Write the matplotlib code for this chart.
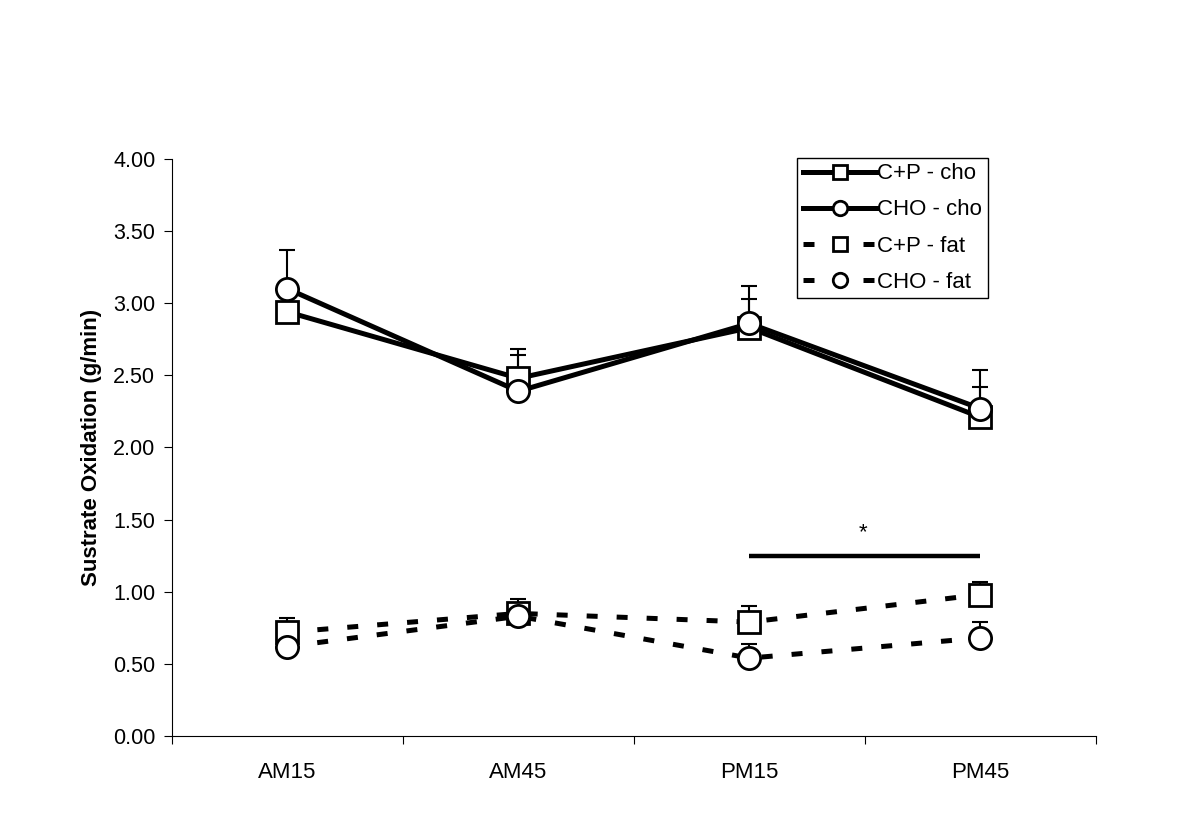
import matplotlib
matplotlib.use("Agg")
import matplotlib.pyplot as plt
import numpy as np

plt.rcParams['font.family'] = ['Liberation Sans', 'DejaVu Sans']

categories = ["AM15", "AM45", "PM15", "PM45"]
cp_cho = [2.94, 2.48, 2.83, 2.21]
cp_cho_se = [0.0, 0.20, 0.20, 0.21]
cho_cho = [3.10, 2.39, 2.86, 2.27]
cho_cho_se = [0.27, 0.25, 0.26, 0.27]
cp_fat = [0.72, 0.85, 0.79, 0.98]
cp_fat_se = [0.10, 0.10, 0.11, 0.09]
cho_fat = [0.62, 0.83, 0.54, 0.68]
cho_fat_se = [0.0, 0.08, 0.10, 0.11]
sig_x = [2, 3]
sig_y = 1.25
sig_label = "*"
yticks = [0.0, 0.5, 1.0, 1.5, 2.0, 2.5, 3.0, 3.5, 4.0]

fig = plt.figure(figsize=(12, 8.38), dpi=100)
ax = fig.add_axes([0.1433, 0.1217, 0.77, 0.6886])
x = np.arange(len(categories))

series = [
    (cp_cho, cp_cho_se, 's', '-', "C+P - cho"),
    (cho_cho, cho_cho_se, 'o', '-', "CHO - cho"),
    (cp_fat, cp_fat_se, 's', '--', "C+P - fat"),
    (cho_fat, cho_fat_se, 'o', '--', "CHO - fat"),
]
handles = []
for vals, se, mk, ls, lab in series:
    ax.errorbar(x, vals, yerr=[np.zeros(len(se)), se], fmt='none', ecolor='black',
                elinewidth=1.5, capsize=5.5, capthick=1.5, zorder=2)
    line, = ax.plot(x, vals, linestyle=ls, color='black', linewidth=3.6,
                    marker=mk, markersize=16, markerfacecolor='white',
                    markeredgecolor='black', markeredgewidth=2.0, label=lab, zorder=3)
    if ls == '--':
        line.set_dashes((2.2, 3.8))
        line.set_dash_capstyle('butt')
    handles.append(line)

# significance bar
ax.plot(sig_x, [sig_y, sig_y], color='black', linewidth=3.2, solid_capstyle='butt')
ax.text(np.mean(sig_x) - 0.01, sig_y + 0.09, sig_label, ha='center', va='bottom', fontsize=16)

ax.set_xlim(-0.5, 3.5)
ax.set_ylim(0, 4)
ax.set_yticks(yticks)
ax.set_yticklabels([f"{v:.2f}" for v in yticks], fontsize=15.5)
ax.set_xticks(x)
ax.set_xticklabels(categories, fontsize=16)
ax.set_xticks(np.arange(-0.5, 4.0, 1.0), minor=True)
ax.tick_params(axis='x', which='major', length=0, pad=19)
ax.tick_params(axis='x', which='minor', length=6, direction='out', width=0.8)
ax.tick_params(axis='y', length=6, direction='out', width=0.8, pad=6)
for s in ['top', 'right']:
    ax.spines[s].set_visible(False)
for s in ['left', 'bottom']:
    ax.spines[s].set_linewidth(0.8)
ax.set_ylabel("Sustrate Oxidation (g/min)", fontsize=16, fontweight='bold', labelpad=8)

leg = ax.legend(handles=handles, loc='upper right', bbox_to_anchor=(0.883, 1.002),
                fontsize=16, frameon=True, fancybox=False, edgecolor='black',
                handlelength=3.3, handletextpad=0.05, borderpad=0.25, labelspacing=0.68,
                borderaxespad=0.0, markerscale=0.65)
leg.get_frame().set_linewidth(1.0)
leg.get_frame().set_alpha(1)

fig.savefig("out.png", dpi=100, facecolor='white')
